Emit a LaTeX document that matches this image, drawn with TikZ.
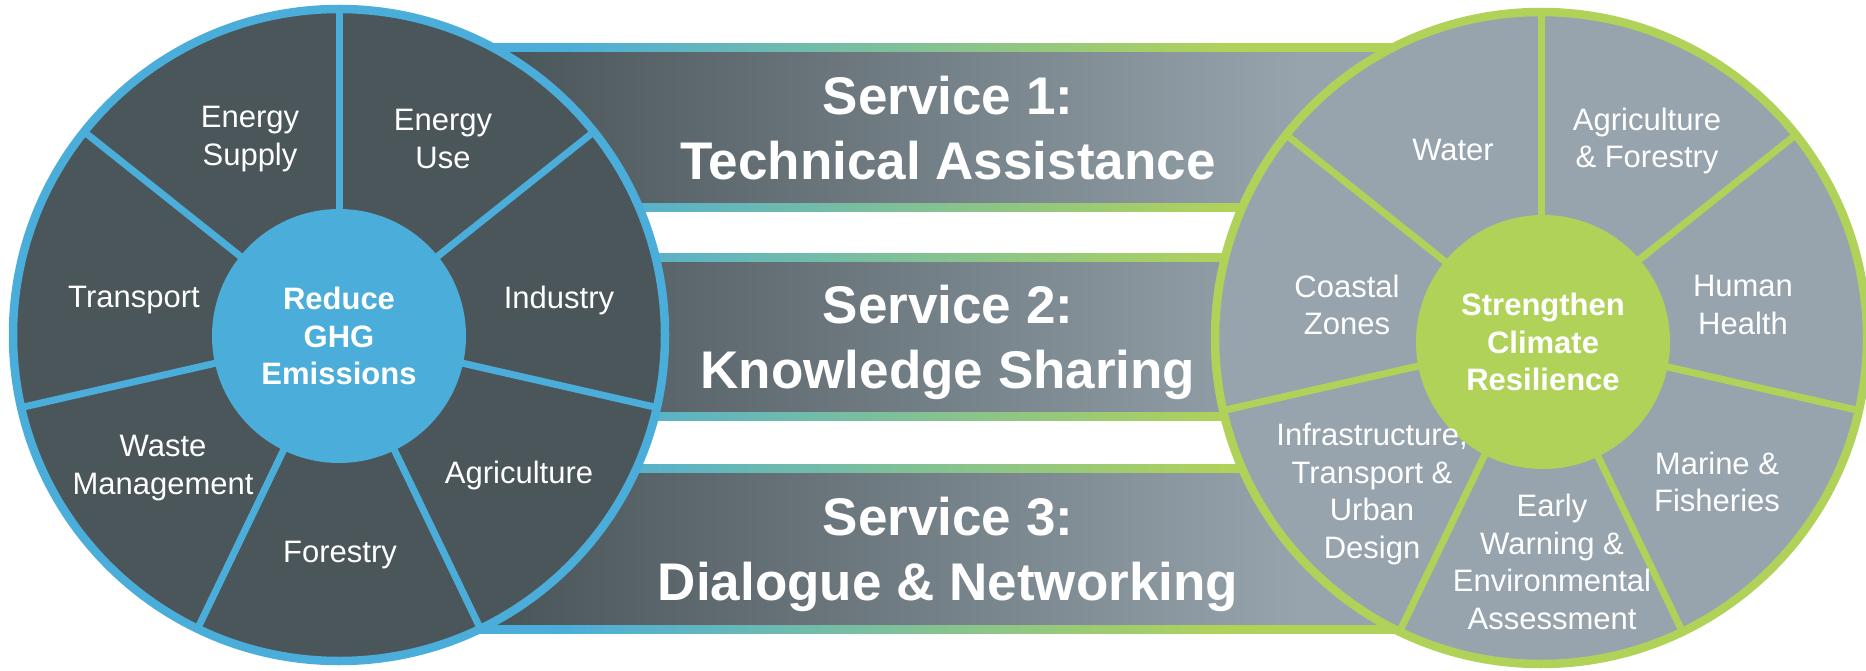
\documentclass[tikz,border=0pt]{standalone}
\usepackage{fontspec}
\setmainfont{Liberation Sans}
\definecolor{ghgblue}{HTML}{4AADDA}
\definecolor{slate}{HTML}{4B565A}
\definecolor{mist}{HTML}{97A4AD}
\definecolor{leaf}{HTML}{B1D259}
% horizontal colour ramps for the service bands (centre 25bp..75bp spans the band)
\pgfdeclarehorizontalshading{bandfill}{100bp}{color(0bp)=(slate); color(32bp)=(slate); color(65bp)=(mist); color(100bp)=(mist)}
\pgfdeclarehorizontalshading{bandedge}{100bp}{color(0bp)=(ghgblue); color(34bp)=(ghgblue); color(62bp)=(leaf); color(100bp)=(leaf)}
\begin{document}
\begin{tikzpicture}[x=1pt,y=-1pt,
  ring/.style={circle, minimum size=652pt, inner sep=0pt, line width=8.5pt},
  hub/.style={circle, minimum size=254pt, inner sep=0pt, text=white,
    font=\bfseries\fontsize{31pt}{37.5pt}\selectfont, align=center},
  spoke/.style={line width=7pt},
  seg/.style={text=white, font=\fontsize{31pt}{37.5pt}\selectfont,
    align=center, inner sep=0pt},
  svc/.style={text=white, font=\bfseries\fontsize{53pt}{65pt}\selectfont,
    align=center, inner sep=0pt}]
\useasboundingbox (0,0) rectangle (1866,671);
\fill[white] (0,0) rectangle (1866,671);

% three service bands, running from hub to hub behind the wheels
\foreach \ya/\yb in {44/212, 253/420, 464/633} {
  \shade[shading=bandedge] (339,\ya) rectangle (1541,\yb);
  \shade[shading=bandfill] (339,\ya+9) rectangle (1541,\yb-9);
}

% mitigation wheel
\node[ring, draw=ghgblue, fill=slate] (ghg) at (339,335) {};
\foreach \ang in {90,38.571,-12.857,-64.286,-115.714,-167.143,141.429}
  \draw[spoke, ghgblue] (ghg.center) -- ([shift={(\ang:328pt)}]ghg.center);
\node[hub, fill=ghgblue] (ghgc) at (339,336) {Reduce\\GHG\\Emissions};

% adaptation wheel
\node[ring, draw=leaf, fill=mist] (ccr) at (1541,338) {};
\foreach \ang in {90,38.571,-12.857,-64.286,-115.714,-167.143,141.429}
  \draw[spoke, leaf] (ccr.center) -- ([shift={(\ang:328pt)}]ccr.center);
\node[hub, fill=leaf] (ccrc) at (1543,342) {Strengthen\\Climate\\Resilience};

% mitigation sectors
\node[seg] (esup) at (250,139) {Energy\\Supply};
\node[seg] (euse) at (443,139) {Energy\\Use};
\node[seg] (ind)  at (559,300) {Industry};
\node[seg] (agr)  at (519,475) {Agriculture};
\node[seg] (for)  at (340,555) {Forestry};
\node[seg] (wst)  at (163,468) {Waste\\Management};
\node[seg] (trn)  at (134,300) {Transport};

% adaptation sectors
\node[seg] (wat) at (1453,150) {Water};
\node[seg] (aaf) at (1647,141) {Agriculture\\\& Forestry};
\node[seg] (hh)  at (1743,305) {Human\\Health};
\node[seg] (mf)  at (1717,482) {Marine \&\\Fisheries};
\node[seg] (ew)  at (1552,562) {Early\\Warning \&\\Environmental\\Assessment};
\node[seg] (inf) at (1372,494) {Infrastructure,\\Transport \&\\Urban\\Design};
\node[seg] (cz)  at (1347,305) {Coastal\\Zones};

% service titles
\node[svc] (s1) at (948,128.5) {Service 1:\\Technical Assistance};
\node[svc] (s2) at (948,342) {Service 2:\\Knowledge Sharing};
\node[svc] (s3) at (948,554) {Service 3:\\Dialogue \& Networking};
\end{tikzpicture}
\end{document}
